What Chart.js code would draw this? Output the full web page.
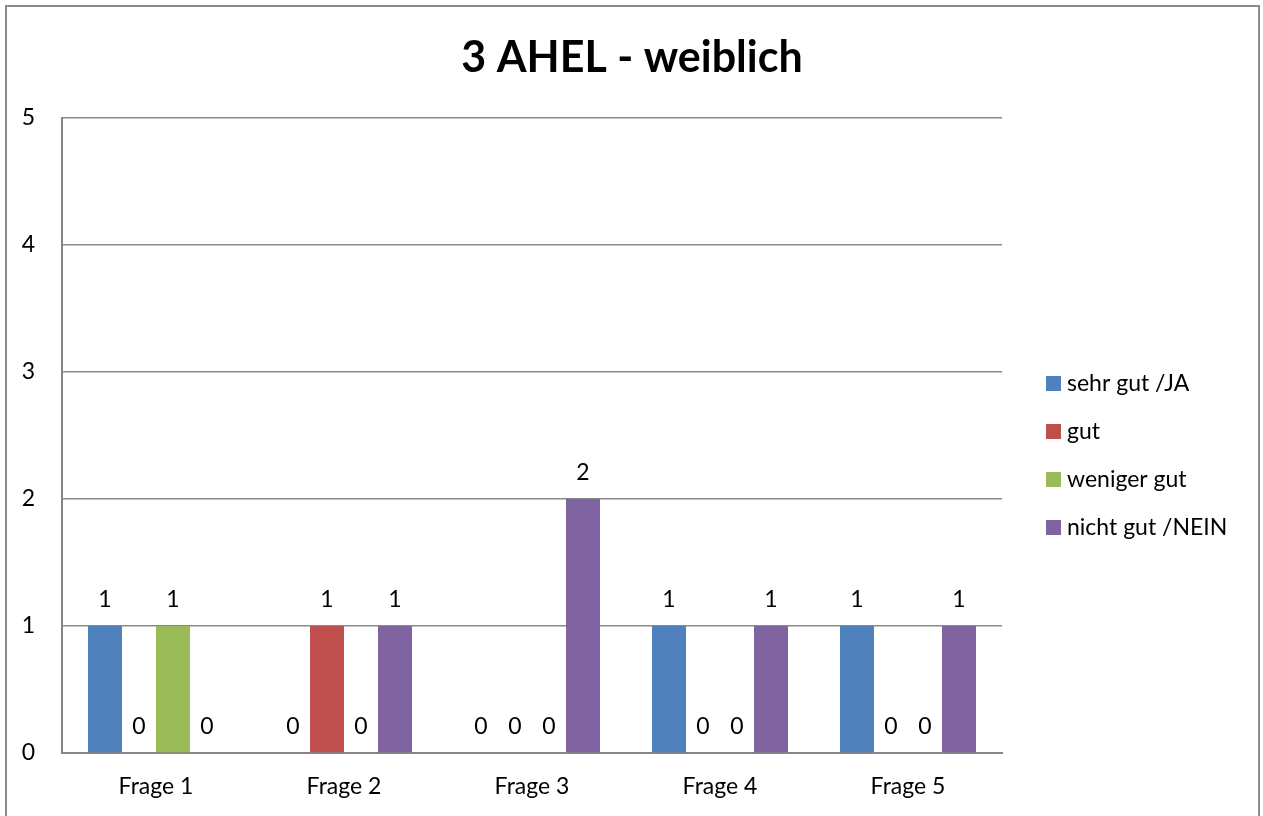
<!DOCTYPE html>
<html>
<head>
<meta charset="utf-8">
<title>3 AHEL - weiblich</title>
<script src="https://cdn.jsdelivr.net/npm/chart.js@4/dist/chart.umd.min.js"></script>
<style>
  html, body { margin: 0; padding: 0; background: #fff; overflow: hidden; }
  canvas { display: block; }
</style>
</head>
<body>
<canvas id="c" width="1263" height="816"></canvas>
<script>
// Survey answers per question
const chartTitle = '3 AHEL - weiblich';
const categories = ['Frage 1', 'Frage 2', 'Frage 3', 'Frage 4', 'Frage 5'];
const seriesNames = ['sehr gut /JA', 'gut', 'weniger gut', 'nicht gut /NEIN'];
const sehrGutJa    = [1, 0, 0, 1, 1];
const gut          = [0, 1, 0, 0, 0];
const wenigerGut   = [1, 0, 0, 0, 0];
const nichtGutNein = [0, 1, 2, 1, 1];
const yTicks = [0, 1, 2, 3, 4, 5];

const colors = ['#4F81BD', '#C0504D', '#9BBB59', '#8064A2'];
const FONT = 'Lato, "Open Sans", sans-serif';
const TEXT_SIZE = 23;

// Outer frame and the title centred across the full width
const framePlugin = {
  id: 'frame',
  beforeDraw(chart) {
    const ctx = chart.ctx;
    ctx.save();
    ctx.fillStyle = '#fff';
    ctx.fillRect(0, 0, chart.width, chart.height);
    ctx.strokeStyle = '#8c8c8c';
    ctx.lineWidth = 2;
    ctx.strokeRect(6, 6, 1253, 900);
    ctx.font = 'bold 43px ' + FONT;
    ctx.fillStyle = '#000';
    ctx.textAlign = 'center';
    ctx.textBaseline = 'alphabetic';
    ctx.fillText(chartTitle, 632, 72);
    ctx.restore();
  }
};

// Value labels above every bar (zeros included)
const valueLabels = {
  id: 'valueLabels',
  afterDatasetsDraw(chart) {
    const ctx = chart.ctx;
    ctx.save();
    ctx.font = TEXT_SIZE + 'px ' + FONT;
    ctx.fillStyle = '#000';
    ctx.textAlign = 'center';
    ctx.textBaseline = 'middle';
    chart.data.datasets.forEach((ds, i) => {
      const meta = chart.getDatasetMeta(i);
      meta.data.forEach((bar, j) => {
        ctx.fillText(String(ds.data[j]), bar.x, bar.y - 26);
      });
    });
    ctx.restore();
  }
};

// Legend listed on the right side
const sideLegend = {
  id: 'sideLegend',
  afterDraw(chart) {
    const ctx = chart.ctx;
    ctx.save();
    ctx.font = TEXT_SIZE + 'px ' + FONT;
    ctx.textBaseline = 'middle';
    ctx.textAlign = 'left';
    const x = 1046, y0 = 383, step = 48;
    chart.data.datasets.forEach((ds, i) => {
      const y = y0 + i * step;
      ctx.fillStyle = ds.backgroundColor;
      ctx.fillRect(x, y - 7, 15, 15);
      ctx.fillStyle = '#000';
      ctx.fillText(ds.label, x + 21, y + 1);
    });
    ctx.restore();
  }
};

const seriesData = [sehrGutJa, gut, wenigerGut, nichtGutNein];

new Chart(document.getElementById('c'), {
  type: 'bar',
  data: {
    labels: categories,
    datasets: seriesNames.map((name, i) => ({
      label: name,
      data: seriesData[i],
      backgroundColor: colors[i],
      borderWidth: 0,
      categoryPercentage: 136 / 188,
      barPercentage: 1
    }))
  },
  options: {
    responsive: false,
    animation: false,
    layout: { padding: { left: 0, right: 261, top: 118, bottom: 0 } },
    plugins: {
      legend: { display: false },
      tooltip: { enabled: false },
      title: { display: false }
    },
    scales: {
      x: {
        grid: { display: false, drawTicks: false },
        border: { display: true, color: '#868686', width: 2 },
        ticks: { color: '#000', font: { family: FONT, size: TEXT_SIZE }, padding: 20 },
        afterFit(scale) { scale.height = 63; }
      },
      y: {
        min: 0,
        max: 5,
        afterBuildTicks(scale) { scale.ticks = yTicks.map(v => ({ value: v })); },
        grid: { color: '#8a8a8a', lineWidth: 1.6, drawTicks: false },
        border: { display: true, color: '#868686', width: 2 },
        ticks: { color: '#000', font: { family: FONT, size: TEXT_SIZE }, padding: 27 },
        afterFit(scale) { scale.width = 62; }
      }
    }
  },
  plugins: [framePlugin, valueLabels, sideLegend]
});
</script>
</body>
</html>
